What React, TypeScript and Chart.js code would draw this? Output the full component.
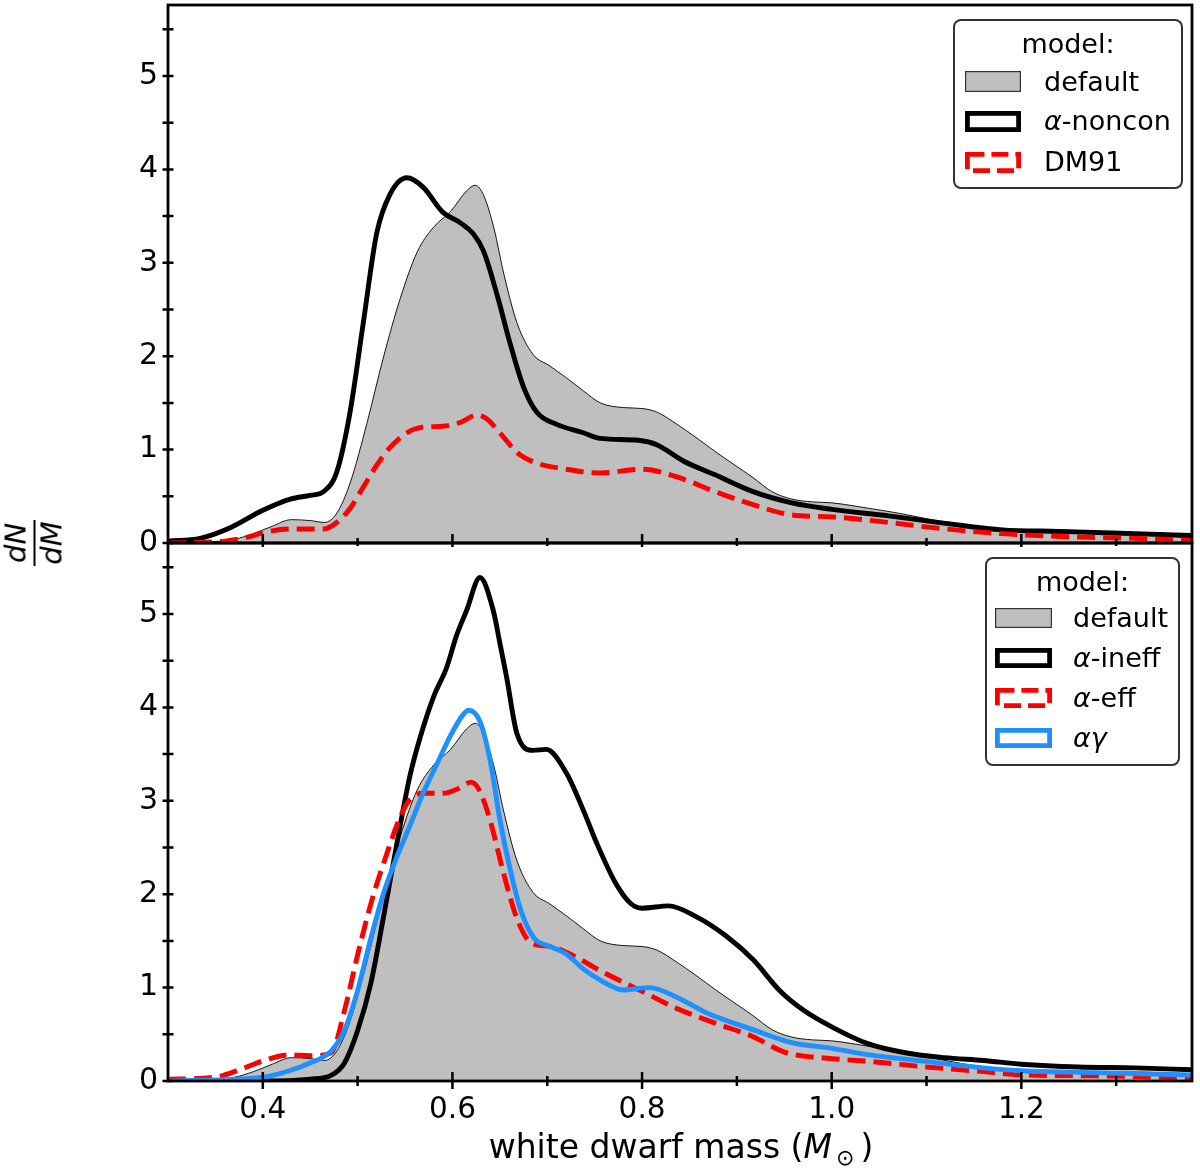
import React, { useEffect, useRef } from "react";
import { Chart, registerables } from "chart.js";

Chart.register(...registerables);

const FONT = "'DejaVu Sans', 'Liberation Sans', sans-serif";

// axis ranges and ticks
const xRange = [0.3, 1.38];
const yRange = [0, 5.76];
const xMajorTicks = [0.4, 0.6, 0.8, 1.0, 1.2];
const xMinorTicks = [0.5, 0.7, 0.9, 1.1, 1.3];
const yMajorTicks = [0, 1, 2, 3, 4, 5];
const yMinorTicks = [0.5, 1.5, 2.5, 3.5, 4.5, 5.5];

// default model (grey, both panels)
const defaultMass = [0.30, 0.34, 0.37, 0.39, 0.41, 0.43, 0.45, 0.465, 0.478, 0.492, 0.51, 0.527, 0.545, 0.563, 0.58, 0.598, 0.615, 0.624, 0.633, 0.644, 0.654, 0.668, 0.685, 0.702, 0.72, 0.738, 0.756, 0.78, 0.80, 0.816, 0.837, 0.857, 0.877, 0.897, 0.917, 0.937, 0.958, 0.98, 1.0, 1.04, 1.07, 1.10, 1.13, 1.16, 1.20, 1.24, 1.28, 1.34, 1.38];
const defaultDensity = [0.0, 0.01, 0.04, 0.10, 0.18, 0.25, 0.24, 0.22, 0.32, 0.64, 1.29, 1.98, 2.62, 3.12, 3.38, 3.55, 3.77, 3.83, 3.72, 3.36, 2.89, 2.36, 2.02, 1.90, 1.77, 1.63, 1.50, 1.45, 1.44, 1.40, 1.27, 1.13, 0.98, 0.84, 0.70, 0.55, 0.47, 0.44, 0.43, 0.37, 0.32, 0.26, 0.20, 0.15, 0.12, 0.11, 0.10, 0.09, 0.05];

// top panel: alpha-noncon
const noconMass = [0.30, 0.334, 0.365, 0.40, 0.429, 0.45, 0.464, 0.478, 0.492, 0.506, 0.52, 0.534, 0.552, 0.569, 0.59, 0.608, 0.622, 0.633, 0.647, 0.661, 0.675, 0.689, 0.71, 0.738, 0.756, 0.796, 0.816, 0.844, 0.877, 0.917, 0.958, 1.0, 1.06, 1.12, 1.18, 1.24, 1.32, 1.38];
const noconDensity = [0.02, 0.05, 0.16, 0.35, 0.47, 0.51, 0.55, 0.76, 1.40, 2.36, 3.31, 3.73, 3.91, 3.81, 3.54, 3.43, 3.31, 3.12, 2.66, 2.13, 1.67, 1.40, 1.27, 1.18, 1.12, 1.10, 1.05, 0.875, 0.73, 0.55, 0.43, 0.36, 0.29, 0.21, 0.14, 0.125, 0.10, 0.08];

// top panel: DM91
const dm91Mass = [0.30, 0.36, 0.387, 0.40, 0.429, 0.464, 0.478, 0.492, 0.506, 0.52, 0.534, 0.552, 0.569, 0.59, 0.608, 0.626, 0.636, 0.65, 0.668, 0.685, 0.72, 0.756, 0.80, 0.836, 0.877, 0.917, 0.958, 1.0, 1.06, 1.12, 1.18, 1.24, 1.32, 1.38];
const dm91Density = [0.0, 0.02, 0.07, 0.11, 0.15, 0.15, 0.22, 0.37, 0.60, 0.83, 1.02, 1.18, 1.24, 1.25, 1.29, 1.37, 1.33, 1.18, 0.97, 0.87, 0.79, 0.75, 0.79, 0.71, 0.55, 0.41, 0.30, 0.28, 0.22, 0.15, 0.10, 0.07, 0.05, 0.03];

// bottom panel: alpha-ineff
const ineffMass = [0.30, 0.40, 0.45, 0.472, 0.486, 0.50, 0.514, 0.527, 0.541, 0.555, 0.566, 0.580, 0.594, 0.604, 0.615, 0.629, 0.643, 0.650, 0.657, 0.668, 0.685, 0.699, 0.72, 0.738, 0.752, 0.772, 0.788, 0.80, 0.828, 0.857, 0.889, 0.917, 0.945, 0.97, 1.0, 1.038, 1.079, 1.119, 1.16, 1.20, 1.26, 1.32, 1.38];
const ineffDensity = [0.0, 0.0, 0.02, 0.06, 0.19, 0.54, 1.05, 1.74, 2.52, 3.26, 3.68, 4.11, 4.43, 4.76, 5.04, 5.39, 5.04, 4.69, 4.33, 3.72, 3.54, 3.55, 3.30, 2.90, 2.55, 2.12, 1.90, 1.85, 1.875, 1.76, 1.55, 1.30, 0.97, 0.76, 0.58, 0.40, 0.30, 0.25, 0.22, 0.18, 0.15, 0.14, 0.12];

// bottom panel: alpha-eff
const effMass = [0.30, 0.349, 0.378, 0.40, 0.428, 0.449, 0.472, 0.486, 0.50, 0.514, 0.531, 0.545, 0.555, 0.569, 0.59, 0.604, 0.620, 0.629, 0.64, 0.654, 0.668, 0.683, 0.703, 0.724, 0.756, 0.80, 0.836, 0.877, 0.917, 0.95, 1.0, 1.04, 1.10, 1.16, 1.20, 1.28, 1.38];
const effDensity = [0.02, 0.04, 0.13, 0.215, 0.28, 0.27, 0.30, 0.75, 1.35, 1.90, 2.44, 2.83, 3.01, 3.08, 3.08, 3.12, 3.20, 3.10, 2.78, 2.22, 1.74, 1.48, 1.44, 1.36, 1.18, 0.96, 0.78, 0.62, 0.475, 0.31, 0.24, 0.21, 0.15, 0.10, 0.065, 0.055, 0.03];

// bottom panel: alpha-gamma
const agMass = [0.30, 0.349, 0.40, 0.428, 0.449, 0.472, 0.486, 0.50, 0.514, 0.527, 0.541, 0.555, 0.569, 0.583, 0.597, 0.611, 0.617, 0.629, 0.64, 0.65, 0.661, 0.672, 0.686, 0.703, 0.72, 0.738, 0.756, 0.78, 0.808, 0.836, 0.869, 0.917, 0.958, 1.0, 1.04, 1.10, 1.16, 1.20, 1.28, 1.38];
const agDensity = [0.0, 0.01, 0.04, 0.11, 0.19, 0.32, 0.54, 0.97, 1.53, 2.00, 2.39, 2.73, 3.08, 3.38, 3.68, 3.92, 3.97, 3.85, 3.42, 2.80, 2.26, 1.83, 1.53, 1.44, 1.36, 1.20, 1.08, 0.975, 1.00, 0.90, 0.725, 0.55, 0.41, 0.35, 0.28, 0.21, 0.14, 0.11, 0.09, 0.065];

const toPoints = (xs: number[], ys: number[]) => xs.map((x, i) => ({ x, y: ys[i] }));

function defaultDataset() {
  return {
    label: "default",
    data: toPoints(defaultMass, defaultDensity),
    borderColor: "#000",
    borderWidth: 0.9,
    backgroundColor: "#bfbfbf",
    fill: "origin",
    pointRadius: 0,
    cubicInterpolationMode: "monotone",
    order: 10,
  };
}

function lineDataset(label: string, xs: number[], ys: number[], color: string, dashed: boolean, order: number) {
  return {
    label,
    data: toPoints(xs, ys),
    borderColor: color,
    borderWidth: 4.9,
    borderDash: dashed ? [18, 8] : [],
    borderCapStyle: "butt",
    fill: false,
    pointRadius: 0,
    cubicInterpolationMode: "monotone",
    order,
  };
}

function framePlugin(isTop: boolean) {
  return {
    id: "frameTicks",
    afterDraw(chart: any) {
      const { ctx, chartArea: a, scales } = chart;
      const xs = scales.x;
      const ys = scales.y;
      ctx.save();
      ctx.strokeStyle = "#000";
      ctx.lineCap = "butt";
      ctx.lineWidth = 2.5;
      ctx.beginPath();
      for (const v of [...yMajorTicks, ...yMinorTicks]) {
        const py = ys.getPixelForValue(v);
        ctx.moveTo(a.left - 5.5, py);
        ctx.lineTo(a.left + 5.5, py);
      }
      for (const v of xMajorTicks) {
        const px = xs.getPixelForValue(v);
        ctx.moveTo(px, a.bottom - 9);
        ctx.lineTo(px, a.bottom + (isTop ? 4 : 8));
      }
      for (const v of xMinorTicks) {
        const px = xs.getPixelForValue(v);
        ctx.moveTo(px, a.bottom - 5);
        ctx.lineTo(px, a.bottom + (isTop ? 3 : 5));
      }
      ctx.stroke();
      ctx.lineWidth = 2.8;
      ctx.strokeRect(a.left, a.top, a.right - a.left, a.bottom - a.top);
      ctx.restore();
    },
  };
}

function zeroPadding(s: any) {
  s.paddingTop = 0;
  s.paddingBottom = 0;
  s.paddingLeft = 0;
  s.paddingRight = 0;
}

function yScale() {
  return {
    type: "linear",
    min: yRange[0],
    max: yRange[1],
    afterFit: (s: any) => {
      s.width = 168;
      zeroPadding(s);
    },
    afterBuildTicks: (s: any) => {
      s.ticks = yMajorTicks.map((v) => ({ value: v }));
    },
    grid: { display: false, drawTicks: false },
    border: { display: false },
    ticks: {
      padding: 10,
      color: "#000",
      font: { family: FONT, size: 30 },
      callback: (v: any) => String(v),
    },
  };
}

function makeOptions(isTop: boolean) {
  const xScale: any = {
    type: "linear",
    min: xRange[0],
    max: xRange[1],
  };
  if (isTop) {
    xScale.display = false;
  } else {
    xScale.afterFit = (s: any) => {
      s.height = 89;
      zeroPadding(s);
    };
    xScale.afterBuildTicks = (s: any) => {
      s.ticks = xMajorTicks.map((v) => ({ value: v }));
    };
    xScale.grid = { display: false, drawTicks: false };
    xScale.border = { display: false };
    xScale.ticks = {
      padding: 12,
      color: "#000",
      maxRotation: 0,
      autoSkip: false,
      font: { family: FONT, size: 29.5 },
      callback: (v: any) => Number(v).toFixed(1),
    };
  }
  return {
    responsive: false,
    animation: false,
    layout: {
      padding: isTop ? { left: 0, right: 8, top: 5, bottom: 17 } : { left: 0, right: 8, top: 3, bottom: 0 },
    },
    plugins: { legend: { display: false }, tooltip: { enabled: false } },
    scales: { x: xScale, y: yScale() },
  };
}

type Row = { label: React.ReactNode; cy: number; kind: "patch" | "solid" | "dashed"; color: string };

function Handle({ kind, color, w, h }: { kind: string; color: string; w: number; h: number }) {
  const sw = kind === "patch" ? 1.2 : 4.8;
  return (
    <svg width={w} height={h} style={{ display: "block" }}>
      <rect
        x={sw / 2}
        y={sw / 2}
        width={w - sw}
        height={h - sw}
        fill={kind === "patch" ? "#bfbfbf" : "#fff"}
        stroke={kind === "patch" ? "#333" : color}
        strokeWidth={sw}
        strokeDasharray={kind === "dashed" ? "17 7" : undefined}
      />
    </svg>
  );
}

function LegendBox(props: {
  left: number; top: number; width: number; height: number; titleCy: number;
  handleX: number; handleW: number; handleH: number; textX: number; rows: Row[];
}) {
  const { left, top, width, height, titleCy, handleX, handleW, handleH, textX, rows } = props;
  const lh = 32;
  const txt: React.CSSProperties = {
    position: "absolute", fontFamily: FONT, fontSize: 27, lineHeight: `${lh}px`, color: "#000", whiteSpace: "nowrap",
  };
  return (
    <>
      <div style={{
        position: "absolute", left, top, width, height, boxSizing: "border-box",
        border: "2.5px solid #333", borderRadius: 8, background: "#fff",
      }} />
      <div style={{ ...txt, left, width, textAlign: "center", top: titleCy - lh / 2 }}>model:</div>
      {rows.map((r, i) => (
        <React.Fragment key={i}>
          <div style={{ position: "absolute", left: handleX, top: r.cy - handleH / 2 }}>
            <Handle kind={r.kind} color={r.color} w={handleW} h={handleH} />
          </div>
          <div style={{ ...txt, left: textX, top: r.cy - lh / 2 }}>{r.label}</div>
        </React.Fragment>
      ))}
    </>
  );
}

export default function App() {
  const topRef = useRef<HTMLCanvasElement>(null);
  const botRef = useRef<HTMLCanvasElement>(null);

  useEffect(() => {
    const top = new Chart(topRef.current as HTMLCanvasElement, {
      type: "line",
      data: {
        datasets: [
          defaultDataset(),
          lineDataset("α-noncon", noconMass, noconDensity, "#000", false, 2),
          lineDataset("DM91", dm91Mass, dm91Density, "#ff0000", true, 1),
        ] as any,
      },
      options: makeOptions(true) as any,
      plugins: [framePlugin(true)],
    });
    const bot = new Chart(botRef.current as HTMLCanvasElement, {
      type: "line",
      data: {
        datasets: [
          defaultDataset(),
          lineDataset("α-ineff", ineffMass, ineffDensity, "#000", false, 3),
          lineDataset("α-eff", effMass, effDensity, "#ff0000", true, 2),
          lineDataset("αγ", agMass, agDensity, "#1e90ff", false, 1),
        ] as any,
      },
      options: makeOptions(false) as any,
      plugins: [framePlugin(false)],
    });
    return () => {
      top.destroy();
      bot.destroy();
    };
  }, []);

  const it: React.CSSProperties = { fontStyle: "italic" };

  return (
    <div style={{ position: "absolute", left: 0, top: 0, width: 1200, height: 1170, background: "#fff", overflow: "hidden" }}>
      <canvas ref={topRef} width={1200} height={560} style={{ position: "absolute", left: 0, top: 0, width: 1200, height: 560 }} />
      <canvas ref={botRef} width={1200} height={630} style={{ position: "absolute", left: 0, top: 540, width: 1200, height: 630 }} />

      <LegendBox
        left={953} top={19} width={230} height={170} titleCy={44}
        handleX={965} handleW={56} handleH={21} textX={1044}
        rows={[
          { label: "default", cy: 81.5, kind: "patch", color: "#bfbfbf" },
          { label: <><span style={it}>α</span>-noncon</>, cy: 121, kind: "solid", color: "#000" },
          { label: "DM91", cy: 162, kind: "dashed", color: "#ff0000" },
        ]}
      />
      <LegendBox
        left={985} top={557} width={195} height={209} titleCy={582}
        handleX={995} handleW={57} handleH={20} textX={1073}
        rows={[
          { label: "default", cy: 618, kind: "patch", color: "#bfbfbf" },
          { label: <><span style={it}>α</span>-ineff</>, cy: 658, kind: "solid", color: "#000" },
          { label: <><span style={it}>α</span>-eff</>, cy: 698, kind: "dashed", color: "#ff0000" },
          { label: <span style={it}>αγ</span>, cy: 738, kind: "solid", color: "#1e90ff" },
        ]}
      />

      {/* y label: dN/dM fraction, rotated */}
      <div style={{
        position: "absolute", left: 34, top: 543, transform: "translate(-50%, -50%) rotate(-90deg)",
        fontFamily: FONT, fontStyle: "italic", fontSize: 29, lineHeight: 1, textAlign: "center", color: "#000",
        whiteSpace: "nowrap",
      }}>
        <div style={{ padding: "0 3px 3px" }}>dN</div>
        <div style={{ borderTop: "2px solid #000" }} />
        <div style={{ paddingTop: 2 }}>dM</div>
      </div>

      {/* x label */}
      <div style={{
        position: "absolute", left: 681, top: 1130, transform: "translateX(-50%)",
        fontFamily: FONT, fontSize: 33, lineHeight: "33px", color: "#000", whiteSpace: "nowrap",
      }}>
        white dwarf mass (<span style={it}>M</span>
        <span style={{ fontSize: 22, position: "relative", top: 7, marginLeft: 4, marginRight: 6 }}>⊙</span>)
      </div>
    </div>
  );
}
